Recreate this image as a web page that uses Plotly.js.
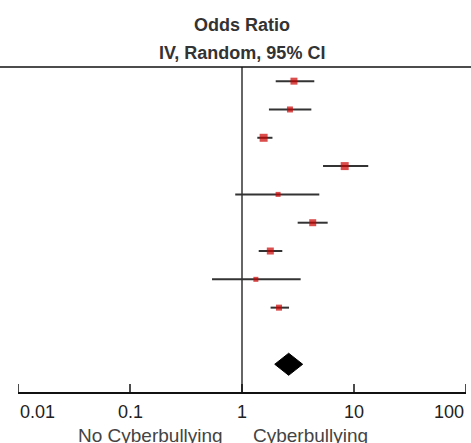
<!DOCTYPE html>
<html>
<head>
<meta charset="utf-8">
<script src="https://cdn.plot.ly/plotly-3.0.1.min.js"></script>
<style>html,body{margin:0;padding:0;background:#fff;}#chart{width:471px;height:443px;}</style>
</head>
<body>
<div id="chart"></div>
<script>
// Study rows (top to bottom): odds ratio with 95% CI
const rows = [1, 2, 3, 4, 5, 6, 7, 8, 9];
const oddsRatio = [2.91, 2.68, 1.56, 8.26, 2.10, 4.28, 1.79, 1.33, 2.14];
const ciLower   = [2.00, 1.74, 1.37, 5.29, 0.87, 3.14, 1.41, 0.54, 1.80];
const ciUpper   = [4.42, 4.16, 1.87, 13.4, 4.90, 5.82, 2.29, 3.34, 2.63];
const studyWeight = [7, 6, 8, 8, 5, 7, 7, 5, 6];

// Pooled estimate (diamond)
const pooledRow = 11;
const pooledOR = 2.61;
const pooledLower = 1.96;
const pooledUpper = 3.48;

// Axis ticks
const tickVals = [0.01, 0.1, 1, 10, 100];
const tickLabels = ["0.01", "0.1", "1", "10", "100"];
const favourLeft = "No Cyberbullying";
const favourRight = "Cyberbullying";
const titleLines = ["Odds Ratio", "IV, Random, 95% CI"];

const FONT = '"Liberation Sans", Arial, sans-serif';

// CI segments
const ciX = [], ciY = [];
rows.forEach((r, i) => { ciX.push(ciLower[i], ciUpper[i], null); ciY.push(r, r, null); });

const traces = [
  {
    type: 'scatter', mode: 'lines', x: ciX, y: ciY,
    line: {color: '#333333', width: 2}, hoverinfo: 'skip', showlegend: false
  },
  {
    type: 'scatter', mode: 'markers', x: oddsRatio, y: rows,
    marker: {symbol: 'square', color: '#cc0000', size: studyWeight, line: {width: 0}},
    showlegend: false
  },
  {
    type: 'scatter', mode: 'lines', fill: 'toself', fillcolor: '#000000',
    x: [pooledLower, pooledOR, pooledUpper, pooledOR, pooledLower],
    y: [pooledRow, pooledRow - 0.39, pooledRow, pooledRow + 0.39, pooledRow],
    line: {color: '#000000', width: 1}, showlegend: false
  }
];

const plotH = 325;
const annotations = [];
const shapes = [
  {type: 'line', xref: 'x', yref: 'paper', x0: 1, x1: 1, y0: 0, y1: 1,
   line: {color: '#333333', width: 1.5}, layer: 'below'},
  {type: 'line', xref: 'paper', yref: 'paper', x0: -18 / 448, x1: 1 + 5 / 448, y0: 1, y1: 1,
   line: {color: '#111111', width: 1.5}}
];
tickVals.forEach((v, i) => {
  let anchor = 'center';
  if (i === 0) anchor = 'left';
  if (i === tickVals.length - 1) anchor = 'right';
  annotations.push({
    xref: 'x', yref: 'paper', x: Math.log10(v), y: -19.5 / plotH,
    text: tickLabels[i], showarrow: false, xanchor: anchor, yanchor: 'middle',
    font: {family: FONT, size: 18, color: '#222222'}
  });
  shapes.push({type: 'line', xref: 'x', yref: 'paper', x0: v, x1: v,
    y0: -1 / plotH, y1: 8 / plotH, line: {color: '#111111', width: 1.5}});
});
annotations.push({
  xref: 'x', yref: 'paper', x: Math.log10(1), y: -43 / plotH, xshift: -17,
  text: favourLeft, showarrow: false, xanchor: 'right', yanchor: 'middle',
  font: {family: FONT, size: 19, color: '#444444'}
});
annotations.push({
  xref: 'x', yref: 'paper', x: Math.log10(1), y: -43 / plotH, xshift: 9,
  text: favourRight, showarrow: false, xanchor: 'left', yanchor: 'middle',
  font: {family: FONT, size: 19, color: '#444444'}
});
annotations.push({
  xref: 'x', yref: 'paper', x: Math.log10(1), y: 1 + 42 / plotH,
  text: '<b>' + titleLines[0] + '</b>', showarrow: false, xanchor: 'center', yanchor: 'middle',
  font: {family: FONT, size: 18, color: '#333333'}
});
annotations.push({
  xref: 'x', yref: 'paper', x: Math.log10(1), y: 1 + 14 / plotH,
  text: '<b>' + titleLines[1] + '</b>', showarrow: false, xanchor: 'center', yanchor: 'middle',
  font: {family: FONT, size: 18, color: '#333333'}
});

const layout = {
  width: 471, height: 443,
  margin: {l: 18, r: 5, t: 67, b: 51},
  paper_bgcolor: '#ffffff', plot_bgcolor: '#ffffff',
  showlegend: false,
  xaxis: {
    type: 'log', range: [-2, 2],
    tickvals: tickVals, showticklabels: false, ticks: '',
    showline: true, linecolor: '#111111', linewidth: 1.5,
    showgrid: false, zeroline: false, fixedrange: true
  },
  yaxis: {
    range: [11.98, 0.5], visible: false, showgrid: false, zeroline: false, fixedrange: true
  },
  shapes: shapes,
  annotations: annotations
};

Plotly.newPlot('chart', traces, layout, {displayModeBar: false, staticPlot: true});
</script>
</body>
</html>
